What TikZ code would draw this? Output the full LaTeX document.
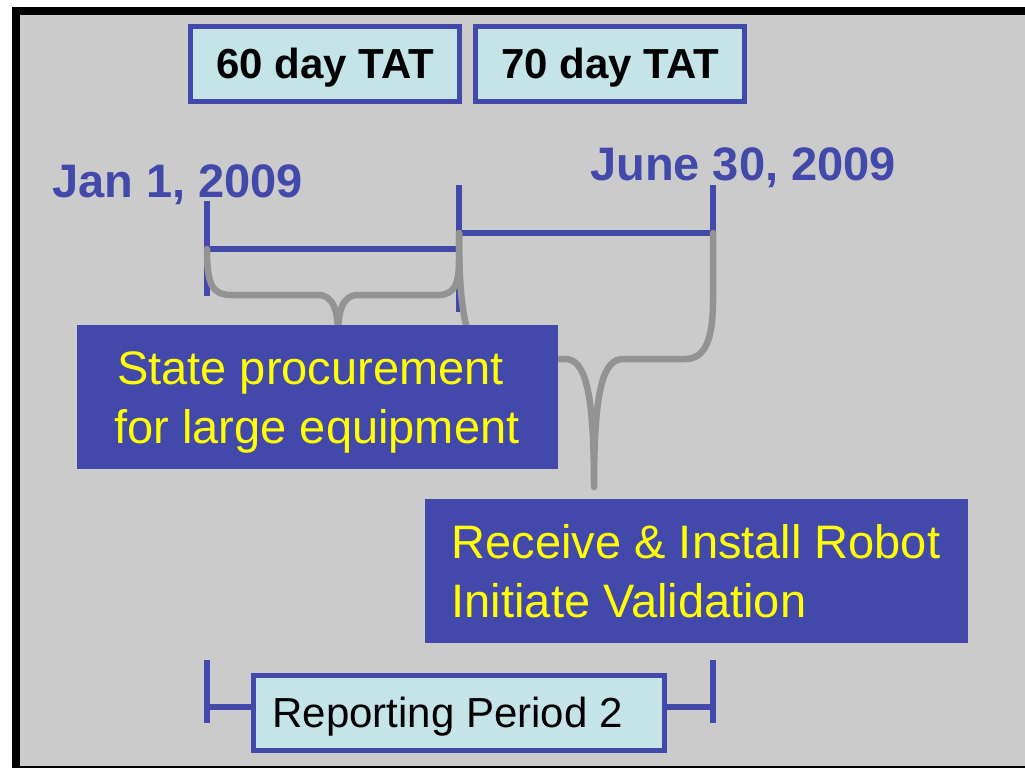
\documentclass[tikz,border=0pt]{standalone}
\usepackage{fontspec}
\setmainfont{Liberation Sans}
\definecolor{slateblue}{HTML}{4349AA}
\definecolor{paleaqua}{HTML}{C4E4E8}
\definecolor{panelgray}{HTML}{CBCBCB}
\definecolor{bracegray}{HTML}{939393}
\definecolor{signyellow}{HTML}{FFFF00}
\begin{document}
\begin{tikzpicture}[x=1pt,y=-1pt,
  tatbox/.style={draw=slateblue, line width=5pt, fill=paleaqua, inner sep=0pt,
    minimum width=269pt, minimum height=75pt,
    font=\fontsize{42}{50}\selectfont\bfseries, text height=36pt, text depth=8pt},
  datelabel/.style={inner sep=0pt, text=slateblue, font=\fontsize{47}{56}\selectfont\bfseries},
  taskbox/.style={fill=slateblue, draw=slateblue, line width=0.8pt, inner sep=0pt,
    minimum height=143pt, text=signyellow, font=\fontsize{47}{58.5}\selectfont,
    text height=103pt, text depth=10pt},
  periodbox/.style={draw=slateblue, line width=5pt, fill=paleaqua, inner sep=0pt,
    minimum width=411pt, minimum height=75pt,
    font=\fontsize{42}{50}\selectfont, text height=36pt, text depth=8pt},
  timeline/.style={draw=slateblue, line width=6.5pt},
  brace/.style={draw=bracegray, line width=6.5pt, line cap=round, line join=round},
]
\useasboundingbox (0,0) rectangle (1025,768);

% slide frame
\fill[white] (0,0) rectangle (1025,768);
\fill[black] (12,7) rectangle (1025,768);
\fill[panelgray] (20,15) rectangle (1025,766);

% turnaround-time headers
\node[tatbox] (tat60) at (325,64) {60 day TAT};
\node[tatbox] (tat70) at (610,64) {70 day TAT};

% dates
\node[datelabel, anchor=base west] (jan) at (52,197) {Jan 1, 2009};
\node[datelabel, anchor=base west] (june) at (590,180) {June 30, 2009};

% timeline ticks and spans
\coordinate (t1top) at (207,201);  \coordinate (t1bot) at (207,296);
\coordinate (t2top) at (459,185);  \coordinate (t2bot) at (459,312);
\coordinate (t3top) at (713,185);  \coordinate (t3bot) at (713,279);
\coordinate (s1L) at (207,249);    \coordinate (s1R) at (459,249);
\coordinate (s2L) at (459,233);    \coordinate (s2R) at (713,233);
\draw[timeline] (t1top) -- (t1bot);
\draw[timeline] (t2top) -- (t2bot);
\draw[timeline] (t3top) -- (t3bot);
\draw[timeline] (s1L) -- (s1R);
\draw[timeline] (s2L) -- (s2R);

% braces
\coordinate (b1tip) at (338,335);
\draw[brace] (s1L) .. controls (207,285) and (212,295) .. (232,295) -- (318,295)
  .. controls (333,295) and (338,310) .. (b1tip)
  .. controls (338,310) and (343,295) .. (358,295) -- (438,295)
  .. controls (454,295) and (459,285) .. (459,260) -- (s2L);
\coordinate (b2tip) at (594,487);
\draw[brace] (s2L) .. controls (459,330) and (470,359) .. (500,359) -- (565,359)
  .. controls (585,359) and (594,390) .. (b2tip)
  .. controls (594,390) and (603,359) .. (623,359) -- (685,359)
  .. controls (705,359) and (713,340) .. (713,300) -- (s2R);

% tasks
\node[taskbox, minimum width=480pt, align=center] (proc) at (317,396.5)
  {State procurement\hspace*{13pt}\\for large equipment};
\node[taskbox, minimum width=542pt, align=left] (robot) at (696,570.5)
  {Receive \& Install Robot\\Initiate Validation};

% reporting period
\node[periodbox] (period) at (459,713) {Reporting Period 2\hspace*{23pt}};
\coordinate (p1top) at (207,660); \coordinate (p1bot) at (207,723);
\coordinate (p2top) at (713,660); \coordinate (p2bot) at (713,723);
\coordinate (p1mid) at (207,707); \coordinate (p2mid) at (713,707);
\draw[timeline] (p1top) -- (p1bot);
\draw[timeline] (p2top) -- (p2bot);
\draw[timeline] (p1mid) -- (period.west |- p1mid);
\draw[timeline] (period.east |- p2mid) -- (p2mid);
\end{tikzpicture}
\end{document}
